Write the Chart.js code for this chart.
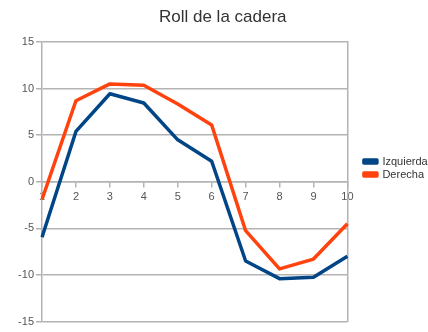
<!DOCTYPE html>
<html>
<head>
<meta charset="utf-8">
<script src="https://cdn.jsdelivr.net/npm/chart.js@4/dist/chart.umd.min.js"></script>
<style>
  html, body { margin: 0; padding: 0; background: #ffffff; }
  #wrap { width: 428px; height: 332px; }
</style>
</head>
<body>
<div id="wrap"><canvas id="chart" width="428" height="332"></canvas></div>
<script>
// Hip roll per sample, left and right side
const categories = ['1', '2', '3', '4', '5', '6', '7', '8', '9', '10'];
const izquierda = [-5.95, 5.4, 9.45, 8.45, 4.5, 2.2, -8.5, -10.4, -10.25, -8.0];
const derecha = [-1.9, 8.7, 10.5, 10.35, 8.35, 6.1, -5.25, -9.35, -8.3, -4.5];
const yTicks = [-15, -10, -5, 0, 5, 10, 15];

const GRID = '#b3b3b3';
const TEXT = '#555555';
const FONT = "'Liberation Sans', Arial, sans-serif";

new Chart(document.getElementById('chart'), {
  type: 'line',
  data: {
    labels: categories,
    datasets: [
      {
        label: 'Izquierda',
        data: izquierda,
        borderColor: '#004586',
        backgroundColor: '#004586',
        borderWidth: 3.5,
        pointRadius: 0,
        tension: 0,
        borderJoinStyle: 'round'
      },
      {
        label: 'Derecha',
        data: derecha,
        borderColor: '#ff420e',
        backgroundColor: '#ff420e',
        borderWidth: 3.5,
        pointRadius: 0,
        tension: 0,
        borderJoinStyle: 'round'
      }
    ]
  },
  options: {
    responsive: false,
    animation: false,
    devicePixelRatio: 1,
    layout: { padding: { left: 14, right: -3.5, top: 4, bottom: 0 } },
    plugins: {
      title: {
        display: true,
        text: 'Roll de la cadera',
        color: '#333333',
        font: { family: FONT, size: 17, weight: 'normal' },
        padding: { top: 3, bottom: 14.6 }
      },
      legend: {
        position: 'right',
        labels: {
          boxWidth: 13,
          boxHeight: 3,
          color: '#333333',
          padding: 2,
          font: { family: FONT, size: 11 }
        }
      },
      tooltip: { enabled: false }
    },
    scales: {
      x: {
        type: 'category',
        position: { y: 0 },
        offset: false,
        grid: {
          color: 'rgba(0,0,0,0)',
          tickColor: GRID,
          tickLength: 5,
          lineWidth: 1.5
        },
        border: { display: true, color: GRID, width: 1.5 },
        ticks: {
          autoSkip: false,
          maxRotation: 0,
          padding: 4,
          color: TEXT,
          font: { family: FONT, size: 11 }
        }
      },
      y: {
        min: -15,
        max: 15,
        afterBuildTicks: (scale) => { scale.ticks = yTicks.map(v => ({ value: v })); },
        afterFit: (scale) => { scale.width = 28; scale.paddingBottom = 10.5; },
        grid: {
          color: GRID,
          tickColor: GRID,
          tickLength: 6,
          lineWidth: 1.5
        },
        border: { display: true, color: GRID, width: 1.5 },
        ticks: {
          padding: 2,
          color: TEXT,
          font: { family: FONT, size: 11 }
        }
      },
      // right frame of the plot area, kept clear of the legend
      yFrame: {
        type: 'linear',
        position: 'right',
        min: -15,
        max: 15,
        grid: { display: false },
        ticks: { display: false },
        border: { display: true, color: GRID, width: 1.5 },
        afterFit: (scale) => { scale.width = 14.5; }
      }
    }
  }
});
</script>
</body>
</html>
